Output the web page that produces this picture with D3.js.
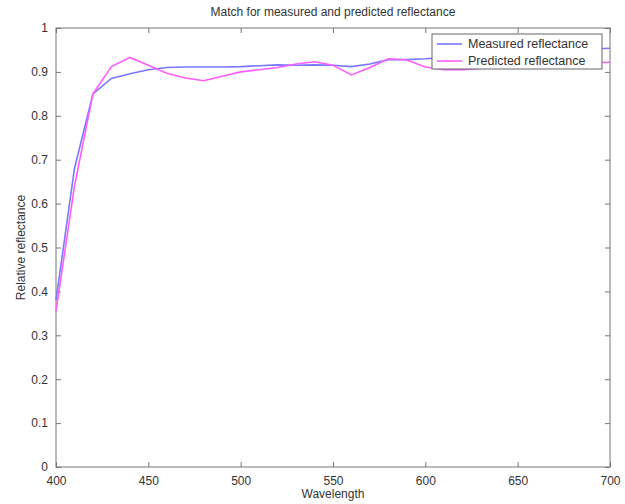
<!DOCTYPE html>
<html><head><meta charset="utf-8">
<script src="https://cdn.jsdelivr.net/npm/d3@7"></script>
<style>body{margin:0;background:#fff}svg{display:block}text{font-family:"Liberation Sans",Arial,sans-serif}</style>
</head><body>
<script>
const wavelengths = [400,410,420,430,440,450,460,470,480,490,500,510,520,530,540,550,560,570,580,590,600,610,620,630,640,650,660,670,680,690,700];
const measured = [0.38,0.68,0.85,0.885,0.896,0.905,0.910,0.911,0.911,0.911,0.912,0.914,0.916,0.915,0.916,0.915,0.912,0.918,0.928,0.928,0.930,0.933,0.937,0.940,0.942,0.944,0.946,0.948,0.950,0.952,0.954];
const predicted = [0.355,0.64,0.85,0.912,0.933,0.915,0.897,0.886,0.880,0.890,0.900,0.905,0.910,0.918,0.923,0.915,0.893,0.910,0.930,0.927,0.911,0.905,0.905,0.908,0.910,0.912,0.915,0.917,0.919,0.921,0.922];
const xTicks = [400,450,500,550,600,650,700];
const yTicks = [0,0.1,0.2,0.3,0.4,0.5,0.6,0.7,0.8,0.9,1];
const seriesNames = ["Measured reflectance","Predicted reflectance"];
const seriesColors = ["#7878ff","#ff5cff"];

const W=625,H=504, L=56,R=610,T=28,B=467;
const svg=d3.select("body").append("svg").attr("width",W).attr("height",H);
const x=d3.scaleLinear().domain([400,700]).range([L,R]);
const y=d3.scaleLinear().domain([0,1]).range([B,T]);

// box
svg.append("rect").attr("x",L).attr("y",T).attr("width",R-L).attr("height",B-T).attr("fill","#fff").attr("stroke","#777").attr("stroke-width",1);

const fmt=d=>d===0?"0":d===1?"1":d3.format(".1f")(d);
const ax=(a)=>a.tickSizeOuter(0);
const gB=svg.append("g").attr("transform",`translate(0,${B})`).call(ax(d3.axisBottom(x).tickValues(xTicks).tickSize(-5).tickPadding(9)));
const gT=svg.append("g").attr("transform",`translate(0,${T})`).call(ax(d3.axisTop(x).tickValues(xTicks).tickSize(-5).tickFormat("")));
const gL=svg.append("g").attr("transform",`translate(${L},0)`).call(ax(d3.axisLeft(y).tickValues(yTicks).tickSize(-5).tickPadding(8).tickFormat(fmt)));
const gR=svg.append("g").attr("transform",`translate(${R},0)`).call(ax(d3.axisRight(y).tickValues(yTicks).tickSize(-5).tickFormat("")));
[gB,gT,gL,gR].forEach(g=>{g.select(".domain").remove();g.selectAll("line").attr("stroke","#777");g.selectAll("text").attr("font-size",12).attr("fill","#333").attr("font-family","'Liberation Sans',Arial,sans-serif");});

const line=d3.line().x((d,i)=>x(wavelengths[i])).y(d=>y(d));
[measured,predicted].forEach((s,k)=>{
  svg.append("path").datum(s).attr("d",line).attr("fill","none").attr("stroke",seriesColors[k]).attr("stroke-width",1.6);
});

// legend
const lg=svg.append("g");
lg.append("rect").attr("x",432).attr("y",34).attr("width",170).attr("height",35).attr("fill","#fff").attr("stroke","#666");
seriesNames.forEach((n,k)=>{
  const yy=44+k*17;
  lg.append("line").attr("x1",437).attr("x2",462).attr("y1",yy).attr("y2",yy).attr("stroke",seriesColors[k]).attr("stroke-width",1.6);
  lg.append("text").attr("x",468).attr("y",yy+4).attr("font-size",12.5).attr("fill","#333").text(n);
});

svg.append("text").attr("x",(L+R)/2).attr("y",16).attr("text-anchor","middle").attr("font-size",12).attr("fill","#333").text("Match for measured and predicted reflectance");
svg.append("text").attr("x",(L+R)/2).attr("y",498).attr("text-anchor","middle").attr("font-size",12).attr("fill","#333").text("Wavelength");
svg.append("text").attr("transform",`translate(25,${(T+B)/2}) rotate(-90)`).attr("text-anchor","middle").attr("font-size",12).attr("fill","#333").text("Relative reflectance");
</script>
</body></html>
